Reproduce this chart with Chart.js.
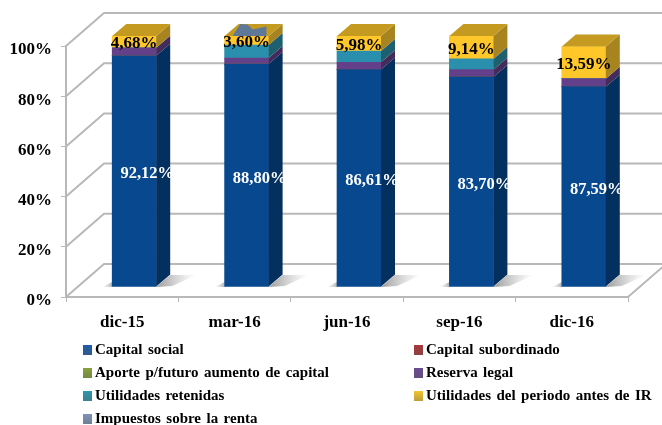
<!DOCTYPE html>
<html lang="es">
  <head>
    <meta charset="UTF-8" />
    <title>Patrimonio</title>
    <script src="https://cdn.jsdelivr.net/npm/chart.js"></script>
    <style>
      html, body { margin: 0; padding: 0; background: #fff; overflow: hidden; }
      canvas { display: block; }
    </style>
  </head>
  <body>
    <canvas id="myChart" width="662" height="425"></canvas>
    <script>
      const categories = ["dic-15", "mar-16", "jun-16", "sep-16", "dic-16"];
      const yTicks = [0, 20, 40, 60, 80, 100];

      // heights (dic-16 is drawn shorter than its printed label)
      const capitalSocial = [92.12, 88.8, 86.61, 83.7, 79.8];
      const capitalSubordinado = [0, 0, 0, 0, 0];
      const aporteFuturo = [0, 0, 0, 0, 0];
      const reservaLegal = [3.2, 2.4, 2.9, 2.9, 3.2];
      const utilidadesRetenidas = [0, 5.2, 4.51, 4.26, 0];
      const utilidadesPeriodo = [4.68, 3.6, 5.98, 9.14, 12.8];
      const impuestosRenta = [0, 0.7, 0, 0, 0];

      const capitalLabels = ["92,12%", "88,80%", "86,61%", "83,70%", "87,59%"];
      const utilidadesLabels = ["4,68%", "3,60%", "5,98%", "9,14%", "13,59%"];

      const FONT = '"Liberation Serif", serif';
      const wall = { dx: 38, dy: 33 }; // depth of the chart box
      const barShift = { dx: 12, dy: 10 }; // bars stand a bit inside the box
      const barDepth = { dx: 14, dy: 12 };

      // name, values, front, side, top, legend colour
      const series = [
        ["Capital social", capitalSocial, "#07488f", "#04305f", "#06407f", "#1f5ca8"],
        ["Capital subordinado", capitalSubordinado, "#a8383b", "#70262a", "#8a2f30", "#a8383b"],
        ["Aporte p/futuro aumento de capital", aporteFuturo, "#86a23c", "#5a6e28", "#6f8832", "#86a23c"],
        ["Reserva legal", reservaLegal, "#65408a", "#432b5c", "#553675", "#6a4c93"],
        ["Utilidades retenidas", utilidadesRetenidas, "#2a8fad", "#1e6070", "#237a92", "#2f97ae"],
        ["Utilidades del periodo antes de IR", utilidadesPeriodo, "#ffc729", "#a88420", "#c49b20", "#f2c530"],
        ["Impuestos sobre la renta", impuestosRenta, "rgba(0,0,0,0)", "rgba(0,0,0,0)", "#5e7899", "#7f93b8"],
      ];
      const IMPUESTOS = 6;
      const YELLOW = 5;

      const poly = function (ctx, pts, fill) {
        ctx.beginPath();
        pts.forEach((p, i) => (i ? ctx.lineTo(p[0], p[1]) : ctx.moveTo(p[0], p[1])));
        ctx.closePath();
        ctx.fillStyle = fill;
        ctx.fill();
      };

      const box3d = {
        id: "box3d",
        beforeDatasetsDraw(chart) {
          const { ctx, chartArea: area, scales } = chart;
          ctx.save();
          // back wall and left wall lines
          ctx.strokeStyle = "#b8b8b8";
          ctx.lineWidth = 2;
          yTicks.forEach((t) => {
            const y = scales.y.getPixelForValue(t);
            ctx.beginPath();
            ctx.moveTo(area.left, y);
            ctx.lineTo(area.left + wall.dx, y - wall.dy);
            ctx.lineTo(chart.width, y - wall.dy);
            ctx.stroke();
          });
          // right side of the floor
          ctx.beginPath();
          ctx.moveTo(area.right, area.bottom);
          ctx.lineTo(area.right + wall.dx, area.bottom - wall.dy);
          ctx.stroke();

          // bar shadows on the floor
          const first = chart.getDatasetMeta(0).data;
          first.forEach((b) => {
            const left = b.x - b.width / 2 + barShift.dx;
            const right = b.x + b.width / 2 + barShift.dx;
            const y = area.bottom - barShift.dy;
            const gr = ctx.createLinearGradient(right, 0, right + 40, 0);
            gr.addColorStop(0, "rgba(120,120,120,0.75)");
            gr.addColorStop(1, "rgba(170,170,170,0)");
            poly(ctx, [[right, y], [right + barDepth.dx, y - barDepth.dy], [right + 40, y - barDepth.dy], [right + 16, y - 1]], gr);
            const gl = ctx.createLinearGradient(left - 10, 0, left, 0);
            gl.addColorStop(0, "rgba(170,170,170,0)");
            gl.addColorStop(1, "rgba(130,130,130,0.6)");
            poly(ctx, [[left, y], [left - 10, y], [left, y - 5]], gl);
          });
          ctx.restore();

          // everything the library draws next goes inside the box
          ctx.save();
          ctx.translate(barShift.dx, -barShift.dy);
        },
        afterDatasetsDraw(chart) {
          const { ctx } = chart;
          const dx = barDepth.dx;
          const dy = barDepth.dy;

          series.forEach((s, i) => {
            if (i === IMPUESTOS) return;
            chart.getDatasetMeta(i).data.forEach((b, j) => {
              if (!s[1][j]) return;
              const r = b.x + b.width / 2;
              // right side of the segment
              poly(ctx, [[r, b.y], [r + dx, b.y - dy], [r + dx, b.base - dy], [r, b.base]], s[3]);
            });
          });

          // top face takes the colour of the top segment
          categories.forEach((c, j) => {
            const b = chart.getDatasetMeta(YELLOW).data[j];
            const l = b.x - b.width / 2;
            const r = b.x + b.width / 2;
            poly(ctx, [[l, b.y], [l + dx, b.y - dy], [r + dx, b.y - dy], [r, b.y]], series[YELLOW][4]);
            if (impuestosRenta[j] > 0) {
              const w = b.width;
              poly(ctx, [
                [l + w * 0.18, b.y],
                [l + w * 0.36, b.y - dy],
                [l + w * 0.52, b.y - dy * 0.95],
                [l + w * 0.64, b.y - dy * 0.55],
                [l + w * 0.95, b.y - dy * 0.8],
                [l + w * 0.95, b.y],
              ], series[IMPUESTOS][4]);
            }
          });

          // data labels
          ctx.textAlign = "center";
          ctx.textBaseline = "middle";
          categories.forEach((c, j) => {
            const blue = chart.getDatasetMeta(0).data[j];
            ctx.font = "bold 16.5px " + FONT;
            ctx.fillStyle = "#fff";
            ctx.fillText(capitalLabels[j], blue.x + 13, (blue.y + blue.base) / 2 + 3);
            const yel = chart.getDatasetMeta(YELLOW).data[j];
            ctx.font = "bold 17px " + FONT;
            ctx.fillStyle = "#000";
            ctx.fillText(utilidadesLabels[j], yel.x, (yel.y + yel.base) / 2 + 2);
          });
          ctx.restore();
        },
        afterDraw(chart) {
          // legend in two columns, top to bottom
          const { ctx } = chart;
          ctx.save();
          ctx.font = "bold 15px " + FONT;
          ctx.wordSpacing = "1.7px";
          ctx.textAlign = "left";
          ctx.textBaseline = "middle";
          series.forEach((s, i) => {
            const x = i % 2 ? 414 : 83;
            const y = 350 + Math.floor(i / 2) * 23;
            const g = ctx.createLinearGradient(0, y - 5, 0, y + 5);
            g.addColorStop(0, s[5]);
            g.addColorStop(1, "#555");
            ctx.fillStyle = s[5];
            ctx.fillRect(x, y - 5, 9, 10);
            ctx.globalAlpha = 0.35;
            ctx.fillStyle = g;
            ctx.fillRect(x, y - 5, 9, 10);
            ctx.globalAlpha = 1;
            ctx.fillStyle = "#000";
            ctx.fillText(s[0], x + 12, y);
          });
          ctx.restore();
        },
      };

      const ctx = document.getElementById("myChart");
      new Chart(ctx, {
        type: "bar",
        data: {
          labels: categories,
          datasets: series.map((s) => ({
            label: s[0],
            data: s[1],
            backgroundColor: s[2],
            borderWidth: 0,
            barThickness: 44,
            clip: false,
          })),
        },
        plugins: [box3d],
        options: {
          responsive: false,
          animation: false,
          layout: { padding: { top: 46, right: 34 } },
          plugins: {
            legend: { display: false },
            tooltip: { enabled: false },
          },
          scales: {
            x: {
              stacked: true,
              afterFit: (scale) => { scale.height = 128; },
              border: { color: "#b8b8b8", width: 2 },
              grid: { drawOnChartArea: false, color: "#b8b8b8", tickLength: 5 },
              ticks: { color: "#000", padding: 10, maxRotation: 0, font: { family: FONT, size: 17, weight: "bold" } },
            },
            y: {
              stacked: true,
              min: 0,
              max: 100,
              afterFit: (scale) => { scale.width = 66; },
              border: { color: "#b8b8b8", width: 2 },
              grid: { drawOnChartArea: false, color: "#b8b8b8", tickLength: 5 },
              ticks: {
                stepSize: 20,
                color: "#000",
                padding: 9,
                labelOffset: 4,
                font: { family: FONT, size: 17, weight: "bold" },
                callback: (v) => v + "%",
              },
            },
          },
        },
      });
    </script>
  </body>
</html>
